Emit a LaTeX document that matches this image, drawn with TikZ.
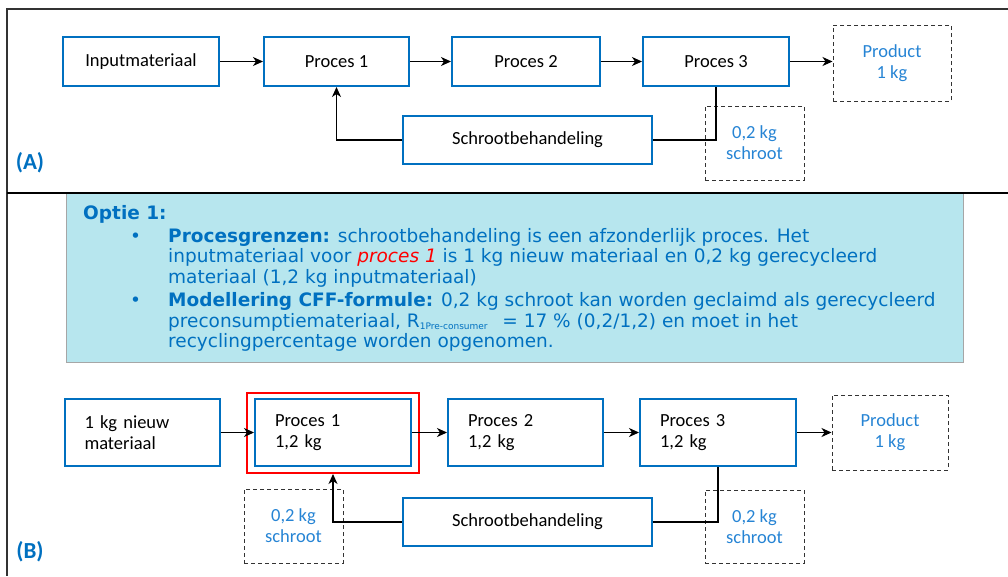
\documentclass[tikz,border=0pt]{standalone}
\usepackage{fontspec}
\setmainfont{Carlito}
\newfontfamily\optfont{DejaVu Sans}
\usetikzlibrary{arrows.meta}
\definecolor{bblue}{HTML}{0070C0}
\definecolor{lblue}{HTML}{2684D4}
\definecolor{cyanbg}{HTML}{B7E6EE}
\begin{document}
\begin{tikzpicture}[x=1pt,y=-1pt, font=\fontsize{18.5}{21}\selectfont,
  bx/.style={draw=bblue,line width=2pt,minimum height=49pt},
  lbx/.style={bx,minimum height=67pt,align=left,inner xsep=20pt},
  dbx/.style={draw=black!80,dash pattern=on 4pt off 3pt,line width=1pt,text=lblue,align=center},
  lab/.style={text=bblue,font=\bfseries\fontsize{23}{23}\selectfont},
  ar/.style={-{Stealth[length=10pt,width=9pt,inset=3pt]},line width=1.2pt}]
\useasboundingbox (0,0) rectangle (1008,576);
% frame
\draw[line width=1.2pt,black!80] (1008,9) -- (7,9) -- (7,576);
\node[fill=cyanbg,draw=black!35,minimum width=897pt,minimum height=169pt,anchor=north west,inner sep=0] (opt) at (66,193) {};
\draw[line width=2.5pt] (7,193) -- (1008,193);
% (A)
\path (141,61.5) node[bx,minimum width=156pt] (in) {Inputmateriaal}
 (336.5,61.5) node[bx,minimum width=145pt] (p1) {Proces 1}
 (526,61.5) node[bx,minimum width=148pt] (p2) {Proces 2}
 (716,61.5) node[bx,minimum width=146pt] (p3) {Proces 3}
 (892,63) node[dbx,minimum width=118pt,minimum height=76pt] (prod) {Product\\1 kg}
 (527.5,140) node[bx,minimum width=249pt,minimum height=48pt] (scr) {Schrootbehandeling}
 (754.5,143) node[dbx,minimum width=99pt,minimum height=74pt] (sc) {0,2 kg\\schroot}
 (30,163) node[lab] (la) {(A)};
\foreach \a/\b in {in/p1, p1/p2, p2/p3, p3/prod} \draw[ar] (\a.east) -- (\a.east -| \b.west);
\draw[line width=1.2pt] (p3.south) |- (scr.east);
\draw[ar] (scr.west) -| (p1.south);
% optie 1
\node[anchor=base west,inner sep=0,text=bblue,font=\optfont\fontsize{18.5}{20.5}\selectfont] (txt) at (83,219)
{\begin{tabular}[t]{@{}p{47pt}@{}p{38pt}@{}l@{}}
\multicolumn{3}{@{}l}{\bfseries Optie 1:}\\[2.5pt]
& \textbullet & \textbf{Procesgrenzen:} schrootbehandeling is een afzonderlijk proces. Het\\
&& inputmateriaal voor \textcolor{red}{\itshape proces 1} is 1 kg nieuw materiaal en 0,2 kg gerecycleerd\\
&& materiaal (1,2 kg inputmateriaal)\\[3pt]
& \textbullet & \textbf{Modellering CFF-formule:} 0,2 kg schroot kan worden geclaimd als gerecycleerd\\
&& preconsumptiemateriaal, R\raisebox{-2pt}{\fontsize{9}{9}\selectfont 1Pre-consumer}\hspace{.8em}= 17 \% (0,2/1,2) en moet in het\\
&& recyclingpercentage worden opgenomen.
\end{tabular}};
% (B)
\path (142,432.5) node[lbx,text width=115pt] (nin) {1 kg nieuw\\materiaal}
 (333,433) node[draw=red,line width=2pt,minimum width=172pt,minimum height=80pt] (rb) {}
 (333,432.5) node[lbx,text width=116pt] (np1) {Proces 1\\1,2 kg}
 (525.5,432.5) node[lbx,text width=115pt] (np2) {Proces 2\\1,2 kg}
 (718,432.5) node[lbx,text width=116pt] (np3) {Proces 3\\1,2 kg}
 (890,432.5) node[dbx,minimum width=116pt,minimum height=75pt] (nprod) {Product\\1 kg}
 (527.5,522) node[bx,minimum width=249pt,minimum height=48pt] (nscr) {Schrootbehandeling}
 (293.5,526) node[dbx,minimum width=99pt,minimum height=74pt] (nsl) {0,2 kg\\schroot}
 (754.5,526.5) node[dbx,minimum width=99pt,minimum height=73pt] (nsr) {0,2 kg\\schroot}
 (30,552) node[lab] (lb) {(B)};
\foreach \a/\b in {nin/np1, np1/np2, np2/np3, np3/nprod} \draw[ar] (\a.east) -- (\a.east -| \b.west);
\draw[line width=1.2pt] (np3.south) |- (nscr.east);
\draw[ar] (nscr.west) -| (rb.south);
\end{tikzpicture}
\end{document}
